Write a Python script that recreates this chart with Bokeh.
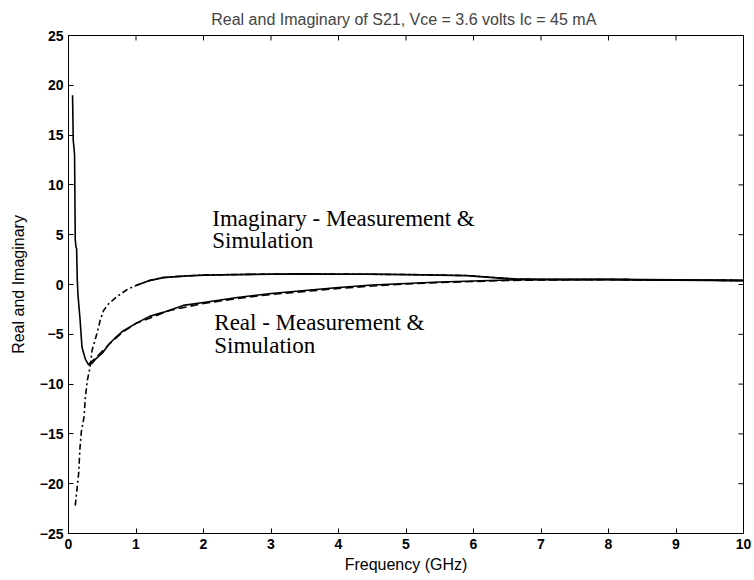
from bokeh.plotting import figure
from bokeh.models import Range1d, FixedTicker, Label
from bokeh.embed import file_html
from bokeh.resources import INLINE

# ---- data ----
title_text = "Real and Imaginary of S21, Vce = 3.6 volts  Ic = 45 mA"
x_label = "Frequency (GHz)"
y_label = "Real and Imaginary"
x_ticks = [0, 1, 2, 3, 4, 5, 6, 7, 8, 9, 10]
y_ticks = [-25, -20, -15, -10, -5, 0, 5, 10, 15, 20, 25]

# Real part, measurement (solid)
freq_real_meas = [0.06, 0.07, 0.08, 0.09, 0.10, 0.11, 0.12, 0.13, 0.14, 0.17, 0.20, 0.25,
                  0.30, 0.35, 0.40, 0.50, 0.60, 0.70, 0.80, 0.90, 1.00, 1.20, 1.40,
                  1.70, 2.00, 2.50, 3.00, 3.50, 4.00, 4.50, 5.00, 5.50, 6.00, 6.50,
                  7.00, 8.00, 9.00, 10.00]
real_meas = [19.0, 14.5, 13.8, 13.0, 4.5, 3.8, 3.6, 0.5, -1.0, -3.4, -6.3, -7.5,
             -8.1, -7.9, -7.5, -6.9, -6.0, -5.3, -4.7, -4.3, -3.9, -3.2, -2.8,
             -2.1, -1.8, -1.3, -0.9, -0.6, -0.3, -0.05, 0.1, 0.25, 0.35, 0.45,
             0.5, 0.5, 0.45, 0.4]

# Real part, simulation (dashed)
freq_real_sim = [0.30, 0.40, 0.60, 0.80, 1.00, 1.50, 2.00, 2.50, 3.00, 3.50, 4.00,
                 4.50, 5.00, 5.50, 6.00, 6.50, 7.00, 8.00, 9.00, 10.00]
real_sim = [-8.0, -7.4, -6.0, -4.8, -3.9, -2.6, -1.9, -1.4, -1.0, -0.7, -0.4,
            -0.15, 0.05, 0.2, 0.3, 0.4, 0.45, 0.5, 0.45, 0.4]

# Imaginary part, simulation (dash-dot)
freq_imag_sim = [0.10, 0.13, 0.15, 0.17, 0.19, 0.23, 0.25, 0.28, 0.32, 0.35, 0.42,
                 0.47, 0.52, 0.60, 0.72, 0.87, 1.00, 1.20, 1.40, 1.70, 2.00,
                 3.00, 4.00, 5.00, 5.90, 6.30, 6.60, 7.00, 8.00, 9.00, 10.00]
imag_sim = [-22.2, -20.3, -19.0, -16.4, -14.8, -13.3, -11.3, -9.6, -8.3, -6.6, -4.95,
            -3.6, -2.6, -1.9, -1.2, -0.5, -0.1, 0.4, 0.7, 0.85, 0.95,
            1.05, 1.05, 1.0, 0.9, 0.7, 0.55, 0.5, 0.5, 0.45, 0.4]

# Imaginary part, measurement (solid)
freq_imag_meas = [1.00, 1.20, 1.40, 1.70, 2.00, 2.50, 3.00, 3.50, 4.00, 4.50, 5.00,
                  5.50, 5.90, 6.30, 6.60, 7.00, 8.00, 9.00, 10.00]
imag_meas = [-0.1, 0.4, 0.7, 0.85, 0.95, 1.0, 1.05, 1.07, 1.05, 1.05, 1.0,
             0.95, 0.9, 0.7, 0.55, 0.5, 0.5, 0.45, 0.4]

# ---- figure ----
p = figure(width=754, height=580, output_backend="svg", toolbar_location=None,
           x_range=Range1d(0, 10), y_range=Range1d(-25, 25),
           min_border_left=68, min_border_right=11, min_border_top=35,
           min_border_bottom=47)
p.background_fill_color = "white"
p.border_fill_color = "white"
p.outline_line_color = "black"
p.outline_line_width = 1
p.grid.visible = False

p.title.text = title_text
p.title.align = "center"
p.title.text_font = "Liberation Sans"
p.title.text_font_size = "16px"
p.title.text_font_style = "normal"
p.title.standoff = 16

tick_font = "Liberation Sans"
for ax in (p.xaxis[0], p.yaxis[0]):
    ax.major_tick_in = 5
    ax.major_tick_out = 0
    ax.minor_tick_in = 0
    ax.minor_tick_out = 0
    ax.axis_line_color = "black"
    ax.major_tick_line_color = "black"
    ax.major_label_text_font = tick_font
    ax.major_label_text_font_size = "14px"
    ax.major_label_text_font_style = "bold"
    ax.major_label_text_color = "black"
    ax.axis_label_text_font = tick_font
    ax.axis_label_text_font_size = "16px"
    ax.axis_label_text_font_style = "normal"
    ax.axis_label_text_color = "black"

p.xaxis[0].ticker = FixedTicker(ticks=x_ticks)
p.yaxis[0].ticker = FixedTicker(ticks=y_ticks)
p.xaxis[0].axis_label = x_label
p.yaxis[0].axis_label = y_label
p.xaxis[0].major_label_standoff = 5
p.xaxis[0].axis_label_standoff = 4
p.yaxis[0].major_label_standoff = 5
p.yaxis[0].axis_label_standoff = 10

# inward ticks on the top and right edges of the box
tick_len_y = 0.5     # in y data units (about 5 px)
tick_len_x = 0.075   # in x data units (about 5 px)
p.segment(x0=x_ticks, y0=[25] * len(x_ticks), x1=x_ticks,
          y1=[25 - tick_len_y] * len(x_ticks), line_color="black", line_width=1)
p.segment(x0=[10] * len(y_ticks), y0=y_ticks, x1=[10 - tick_len_x] * len(y_ticks),
          y1=y_ticks, line_color="black", line_width=1)

# ---- curves ----
p.line(freq_imag_sim, imag_sim, line_color="black", line_width=1.6, line_dash="6 3 2 3")
p.line(freq_imag_meas, imag_meas, line_color="black", line_width=1.8)
p.line(freq_real_sim, real_sim, line_color="black", line_width=1.6, line_dash="8 4")
p.line(freq_real_meas, real_meas, line_color="black", line_width=1.6)

# ---- annotations ----
serif = "Liberation Serif"
for x, y, t in ((2.13, 6.6, "Imaginary - Measurement &"),
                (2.13, 4.4, "Simulation"),
                (2.16, -3.8, "Real - Measurement &"),
                (2.16, -6.1, "Simulation")):
    p.add_layout(Label(x=x, y=y, text=t, text_font=serif, text_font_size="23px",
                       text_baseline="alphabetic", text_align="left",
                       text_color="black"))

open("out.html", "w").write(file_html(p, INLINE))
